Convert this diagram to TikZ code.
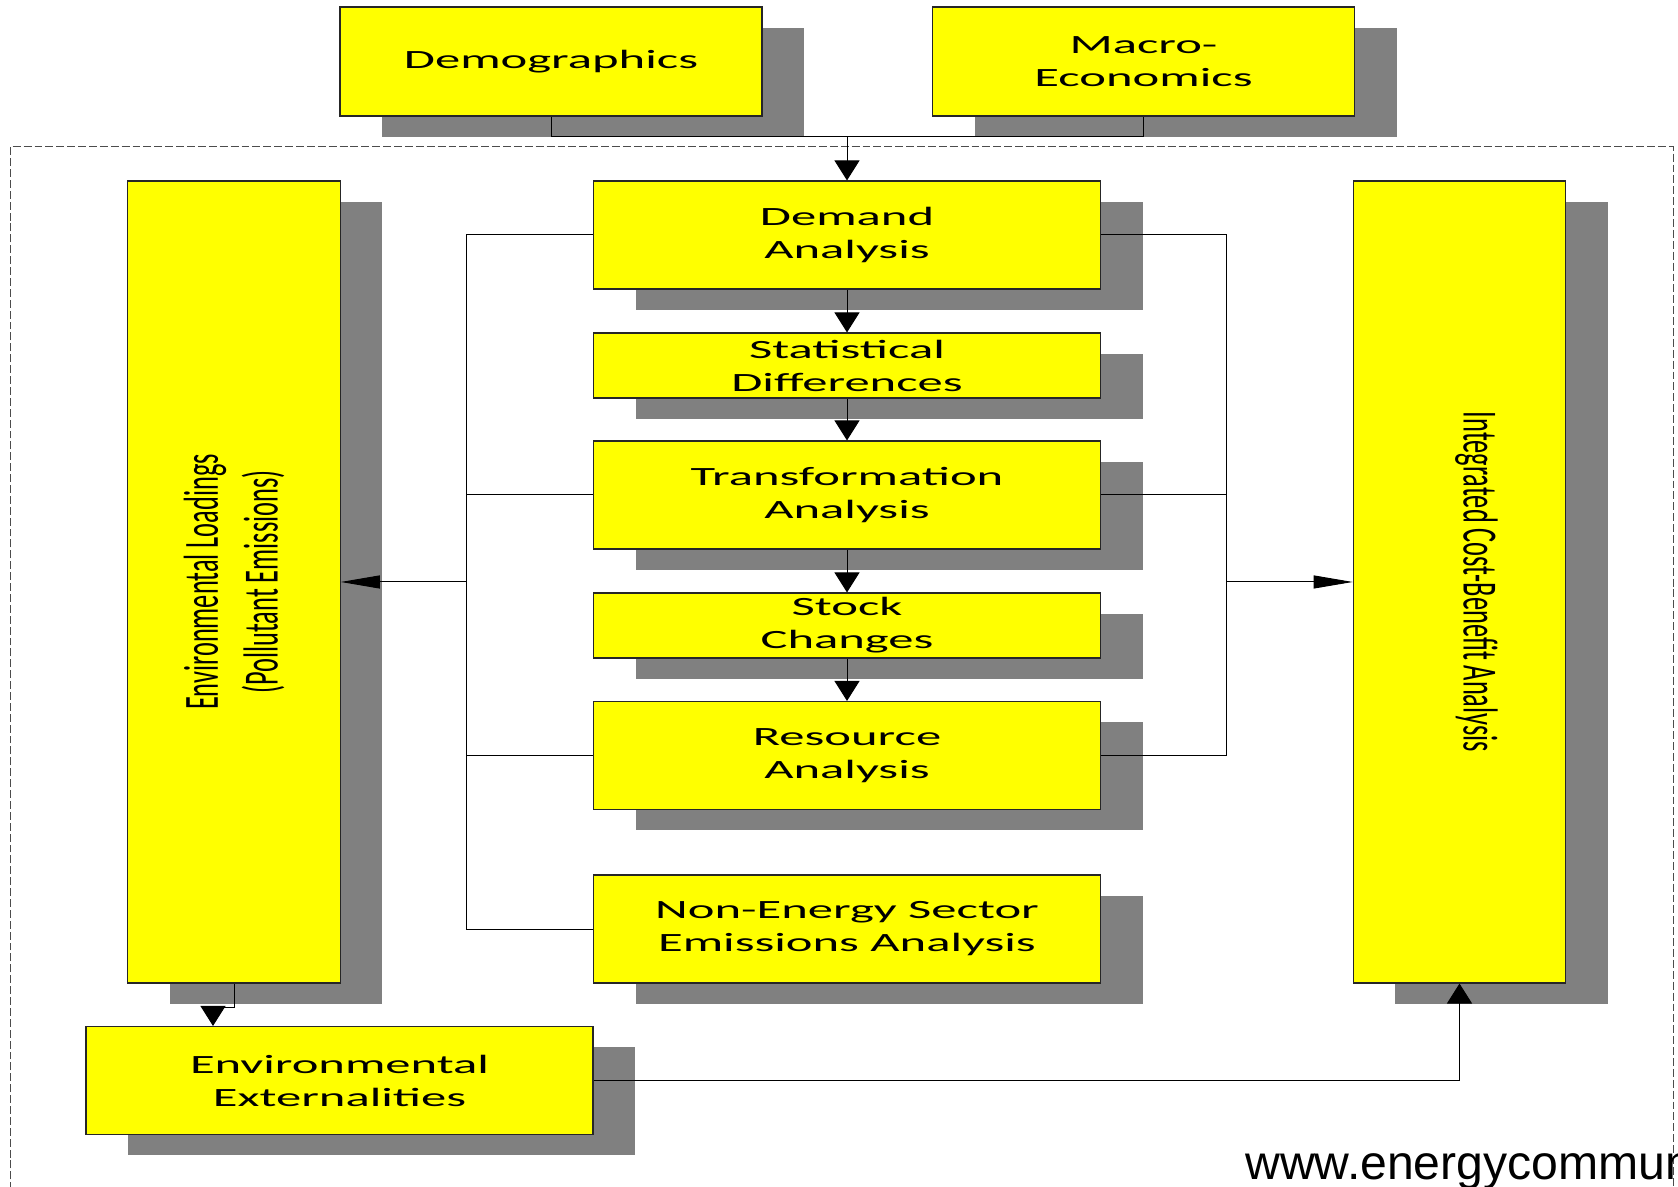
\documentclass[tikz,border=0pt]{standalone}
\usepackage{fontspec}
\usetikzlibrary{positioning}
\usetikzlibrary{shadows}
\usetikzlibrary{arrows.meta}
\newfontfamily\boxfont[FakeStretch=1.92]{Carlito}
\newfontfamily\sidefont[FakeStretch=0.536]{Carlito}
\newfontfamily\urlfont{Liberation Sans}
\definecolor{boxyellow}{RGB}{255,255,0}
\definecolor{shadowgray}{RGB}{128,128,128}
\tikzset{link/.style={line width=0.55pt}}
\tikzset{flow/.style={link, -{Triangle[length=0.4cm,width=0.5cm]}}}
\tikzset{feed/.style={link, -{Triangle[length=0.78cm,width=0.26cm]}}}
\tikzset{yellowbox/.style={draw=black!85, fill=boxyellow, line width=0.6pt, inner sep=0pt, align=center,
  font=\boxfont\fontsize{15}{18.8}\selectfont,
  drop shadow={shadow xshift=0.84cm, shadow yshift=-0.42cm, fill=shadowgray, opacity=1}}}
\tikzset{topbox/.style={yellowbox, minimum width=8.44cm, minimum height=2.18cm}}
\tikzset{bigbox/.style={yellowbox, minimum width=10.14cm, minimum height=2.16cm}}
\tikzset{slimbox/.style={yellowbox, minimum width=10.14cm, minimum height=1.3cm}}
\tikzset{tallbox/.style={yellowbox, minimum width=4.25cm, minimum height=16.04cm}}
\tikzset{sidetext/.style={font=\sidefont\fontsize{28}{34}\selectfont, align=center, inner sep=0pt}}

\begin{document}
\begin{tikzpicture}
\useasboundingbox (0,0) rectangle (33.56,23.74);

% model boundary
\draw[black!70, line width=0.55pt, dash pattern=on 4.5pt off 1.7pt] (0.2,-0.5) rectangle (33.46,20.8);

\node[topbox] (demo) at (11.02,22.51) {Demographics};
\node[topbox] (macro) at (22.87,22.51) {Macro-\\Economics};

\begin{scope}[on grid]
\node[bigbox] (demand) at (16.94,19.04) {Demand\\Analysis};
\node[slimbox] (stat) [below = 2.61 of demand] {Statistical\\Differences};
\node[bigbox] (transf) [below = 2.59 of stat] {Transformation\\Analysis};
\node[slimbox] (stock) [below = 2.61 of transf] {Stock\\Changes};
\node[bigbox] (resource) [below = 2.6 of stock] {Resource\\Analysis};
\node[bigbox] (nonenergy) [below = 3.47 of resource] {Non-Energy Sector\\Emissions Analysis};
\end{scope}

\node[tallbox] (loads) at (4.68,12.10) {};
\node[sidetext, rotate=90] (loadstext) at (loads.center) {Environmental Loadings\\(Pollutant Emissions)};
\node[tallbox] (integ) at (29.19,12.10) {};
\node[sidetext, rotate=-90] (integtext) at ([xshift=0.34cm]integ.center) {Integrated Cost-Benefit Analysis};
\node[bigbox] (ext) at (6.79,2.13) {Environmental\\Externalities};

\coordinate (topjoin) at (16.94,21.0);
\coordinate (lbus) at (9.33,12.10);
\coordinate (rbus) at (24.53,12.10);
\coordinate (extin) at ([xshift=-2.53cm]ext.north);

\draw[link] (demo.south) |- (topjoin) -| (macro.south);
\draw[flow] (topjoin) -- (demand);
\draw[flow] (demand) -- (stat);
\draw[flow] (stat) -- (transf);
\draw[flow] (transf) -- (stock);
\draw[flow] (stock) -- (resource);

\draw[link] (demand.west) -| (lbus) |- (nonenergy.west);
\draw[link] (transf.west) -- (transf.west -| lbus);
\draw[link] (resource.west) -- (resource.west -| lbus);
\draw[feed] (lbus) -- (loads);

\draw[link] (demand.east) -| (rbus) |- (resource.east);
\draw[link] (transf.east) -- (transf.east -| rbus);
\draw[feed] (rbus) -- (integ);

\draw[flow] (loads.south) -- ++(0,-0.48) -| (extin);
\draw[flow] (ext.east) -| (integ.south);

\node[anchor=base west, inner sep=0pt, font=\urlfont\fontsize{27.4}{31}\selectfont] (url) at (24.9,0.14) {www.energycommunity.org};
\end{tikzpicture}
\end{document}
